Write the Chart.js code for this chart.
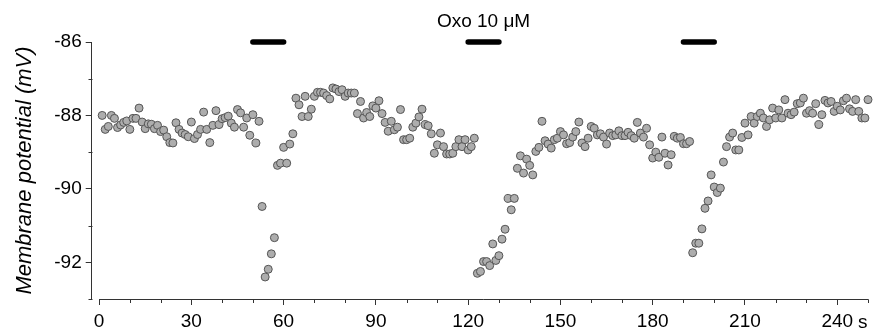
<!DOCTYPE html>
<html>
<head>
<meta charset="utf-8">
<script src="https://cdn.jsdelivr.net/npm/chart.js@4.4.1/dist/chart.umd.min.js"></script>
<style>
  html, body { margin: 0; padding: 0; background: #fff; }
</style>
</head>
<body>
<canvas id="vmChart" width="875" height="330"></canvas>
<script>
// sample times (s) and membrane potential (mV)
const timeS = [
  1, 2, 3, 4, 5, 6, 7, 8, 9, 10,
  11, 12, 13, 14, 15, 16, 17, 18, 19, 20,
  21, 22, 23, 24, 25, 26, 27, 28, 29, 30,
  31, 32, 33, 34, 35, 36, 37, 38, 39, 40,
  41, 42, 43, 44, 45, 46, 47, 48, 49, 50,
  51, 52, 53, 54, 55, 56, 57, 58, 59, 60,
  61, 62, 63, 64, 65, 66, 67, 68, 69, 70,
  71, 72, 73, 74, 75, 76, 77, 78, 79, 80,
  81, 82, 83, 84, 85, 86, 87, 88, 89, 90,
  91, 92, 93, 94, 95, 96, 97, 98, 99, 100,
  101, 102, 103, 104, 105, 106, 107, 108, 109, 110,
  111, 112, 113, 114, 115, 116, 117, 118, 119, 120,
  121, 122, 123, 124, 125, 126, 127, 128, 129, 130,
  131, 132, 133, 134, 135, 136, 137, 138, 139, 140,
  141, 142, 143, 144, 145, 146, 147, 148, 149, 150,
  151, 152, 153, 154, 155, 156, 157, 158, 159, 160,
  161, 162, 163, 164, 165, 166, 167, 168, 169, 170,
  171, 172, 173, 174, 175, 176, 177, 178, 179, 180,
  181, 182, 183, 184, 185, 186, 187, 188, 189, 190,
  191, 192, 193, 194, 195, 196, 197, 198, 199, 200,
  201, 202, 203, 204, 205, 206, 207, 208, 209, 210,
  211, 212, 213, 214, 215, 216, 217, 218, 219, 220,
  221, 222, 223, 224, 225, 226, 227, 228, 229, 230,
  231, 232, 233, 234, 235, 236, 237, 238, 239, 240,
  241, 242, 243, 244, 245, 246, 247, 248, 249, 250,
  251
];
const potentialMV = [
  -88.00, -88.38, -88.30, -88.00, -88.08, -88.33, -88.26, -88.19, -88.15, -88.38,
  -88.08, -88.08, -87.80, -88.18, -88.36, -88.23, -88.24, -88.36, -88.27, -88.44,
  -88.40, -88.58, -88.74, -88.75, -88.20, -88.38, -88.48, -88.52, -88.58, -88.18,
  -88.63, -88.52, -88.38, -87.91, -88.38, -88.74, -88.27, -87.87, -88.25, -88.09,
  -88.06, -88.02, -88.21, -88.32, -87.84, -87.93, -88.32, -88.07, -88.54, -87.98,
  -88.75, -88.16, -90.48, -92.40, -92.19, -91.77, -91.33, -89.36, -89.30, -88.87,
  -89.30, -88.78, -88.50, -87.53, -87.71, -88.03, -87.48, -88.03, -87.83, -87.48,
  -87.37, -87.37, -87.39, -87.46, -87.55, -87.25, -87.28, -87.35, -87.30, -87.48,
  -87.39, -87.39, -87.39, -87.95, -87.62, -88.07, -87.92, -88.03, -87.74, -87.80,
  -87.60, -87.95, -88.19, -88.43, -88.16, -88.39, -88.32, -87.84, -88.66, -88.66,
  -88.62, -88.32, -88.21, -88.04, -87.83, -88.25, -88.28, -88.50, -89.03, -88.80,
  -88.48, -88.85, -89.05, -89.05, -89.03, -88.85, -88.66, -88.85, -88.66, -88.94,
  -88.85, -88.62, -92.30, -92.25, -91.98, -91.98, -92.09, -91.50, -91.95, -91.82,
  -91.37, -91.10, -90.26, -90.57, -90.26, -89.44, -89.10, -89.57, -89.19, -89.36,
  -89.62, -88.98, -88.87, -88.16, -88.69, -88.78, -88.89, -88.66, -88.62, -88.44,
  -88.53, -88.77, -88.74, -88.59, -88.44, -88.18, -88.75, -88.85, -88.62, -88.30,
  -88.35, -88.53, -88.50, -88.59, -88.78, -88.48, -88.55, -88.53, -88.42, -88.55,
  -88.55, -88.46, -88.55, -88.62, -88.19, -88.48, -88.59, -88.35, -88.80, -89.16,
  -89.00, -89.14, -88.59, -89.03, -89.35, -89.07, -88.57, -88.62, -88.60, -88.77,
  -88.77, -88.71, -91.74, -91.48, -91.48, -91.09, -90.53, -90.33, -89.62, -89.95,
  -90.10, -89.98, -89.27, -88.85, -88.59, -88.48, -88.94, -88.94, -88.60, -88.21,
  -88.53, -88.03, -88.21, -88.03, -87.94, -88.07, -88.30, -88.12, -87.80, -88.07,
  -87.85, -88.07, -87.57, -87.94, -87.98, -87.91, -87.68, -87.66, -87.53, -87.94,
  -87.87, -87.94, -87.68, -88.25, -87.98, -87.59, -87.66, -87.62, -87.89, -87.75,
  -87.85, -87.60, -87.53, -87.82, -87.89, -87.57, -87.89, -88.07, -88.07, -87.57,
  -87.75
];

// oxotremorine applications (s)
const drugOn = [50, 120, 190];
const drugOff = [60, 130, 200];
const drugLabel = 'Oxo 10 \u03bcM';
const drugLabelAt = 125;
const drugLevel = -86;

const xMajorTicks = [0, 30, 60, 90, 120, 150, 180, 210, 240];
const xMinorTicks = [10, 20, 40, 50, 70, 80, 100, 110, 130, 140, 160, 170, 190, 200, 220, 230, 250];
const yMajorTicks = [-92, -90, -88, -86];
const yMinorTicks = [-93, -91, -89, -87];

const FONT = "'Liberation Sans', Arial, Helvetica, sans-serif";
const axisColor = '#333';

const points = timeS.map((t, i) => ({ x: t, y: potentialMV[i] }));

const barSets = drugOn.map((t, i) => ({
    type: 'line',
    data: [{ x: t, y: drugLevel }, { x: drugOff[i], y: drugLevel }],
    showLine: true,
    borderColor: '#000',
    borderWidth: 5.5,
    borderCapStyle: 'round',
    pointRadius: 0,
    clip: false
}));

// axis extras: detached x axis line, short minor ticks, label text, unit
const axisExtras = {
    id: 'axisExtras',
    afterDraw(chart) {
        const { ctx, scales: { x, y }, chartArea } = chart;
        ctx.save();
        ctx.strokeStyle = axisColor;
        ctx.lineWidth = 1;
        const yb = Math.round(chartArea.bottom) + 0.5;
        ctx.beginPath();
        ctx.moveTo(x.getPixelForValue(0), yb);
        ctx.lineTo(x.getPixelForValue(250) + 0.5, yb);
        xMinorTicks.forEach(v => {
            const px = Math.round(x.getPixelForValue(v)) + 0.5;
            ctx.moveTo(px, yb);
            ctx.lineTo(px, yb + 3.5);
        });
        const xl = Math.round(chartArea.left) + 0.5;
        yMinorTicks.forEach(v => {
            const py = Math.round(y.getPixelForValue(v)) + 0.5;
            ctx.moveTo(xl, py);
            ctx.lineTo(xl - 4, py);
        });
        ctx.stroke();

        ctx.fillStyle = '#000';
        ctx.font = '19px ' + FONT;
        ctx.textAlign = 'center';
        ctx.textBaseline = 'middle';
        ctx.fillText(drugLabel, x.getPixelForValue(drugLabelAt), chartArea.top - 20);

        // unit after the last tick label
        const w = ctx.measureText('240').width;
        ctx.textAlign = 'left';
        ctx.fillText('s', x.getPixelForValue(240) + w / 2 + 5, chartArea.bottom + 24);
        ctx.restore();
    }
};

new Chart(document.getElementById('vmChart').getContext('2d'), {
    type: 'scatter',
    data: {
        datasets: [{
            data: points,
            pointRadius: 4,
            pointBackgroundColor: '#adadad',
            pointBorderColor: '#555',
            pointBorderWidth: 1,
            clip: false
        }].concat(barSets)
    },
    options: {
        responsive: false,
        animation: false,
        devicePixelRatio: 1,
        layout: { padding: { top: 42, right: 7, bottom: 0, left: 0 } },
        plugins: { legend: { display: false }, tooltip: { enabled: false } },
        scales: {
            x: {
                type: 'linear',
                min: -2.4,
                max: 250,
                afterBuildTicks: s => { s.ticks = xMajorTicks.map(v => ({ value: v })); },
                afterFit: s => { s.height = 31; },
                border: { display: false },
                grid: { drawOnChartArea: false, drawTicks: true, tickLength: 6, color: axisColor },
                ticks: {
                    color: '#000',
                    font: { family: FONT, size: 19 },
                    padding: 5,
                    maxRotation: 0,
                    autoSkip: false
                }
            },
            y: {
                min: -93,
                max: -86,
                afterBuildTicks: s => { s.ticks = yMajorTicks.map(v => ({ value: v })); },
                afterFit: s => { s.width = 91.7; },
                border: { display: true, color: axisColor, width: 1 },
                grid: { drawOnChartArea: false, drawTicks: true, tickLength: 6, color: axisColor },
                ticks: {
                    color: '#000',
                    font: { family: FONT, size: 19 },
                    padding: 4
                },
                title: {
                    display: true,
                    text: 'Membrane potential (mV)',
                    color: '#000',
                    font: { family: FONT, size: 22, style: 'italic' },
                    padding: { top: 12, bottom: 0 }
                }
            }
        }
    },
    plugins: [axisExtras]
});
</script>
</body>
</html>
